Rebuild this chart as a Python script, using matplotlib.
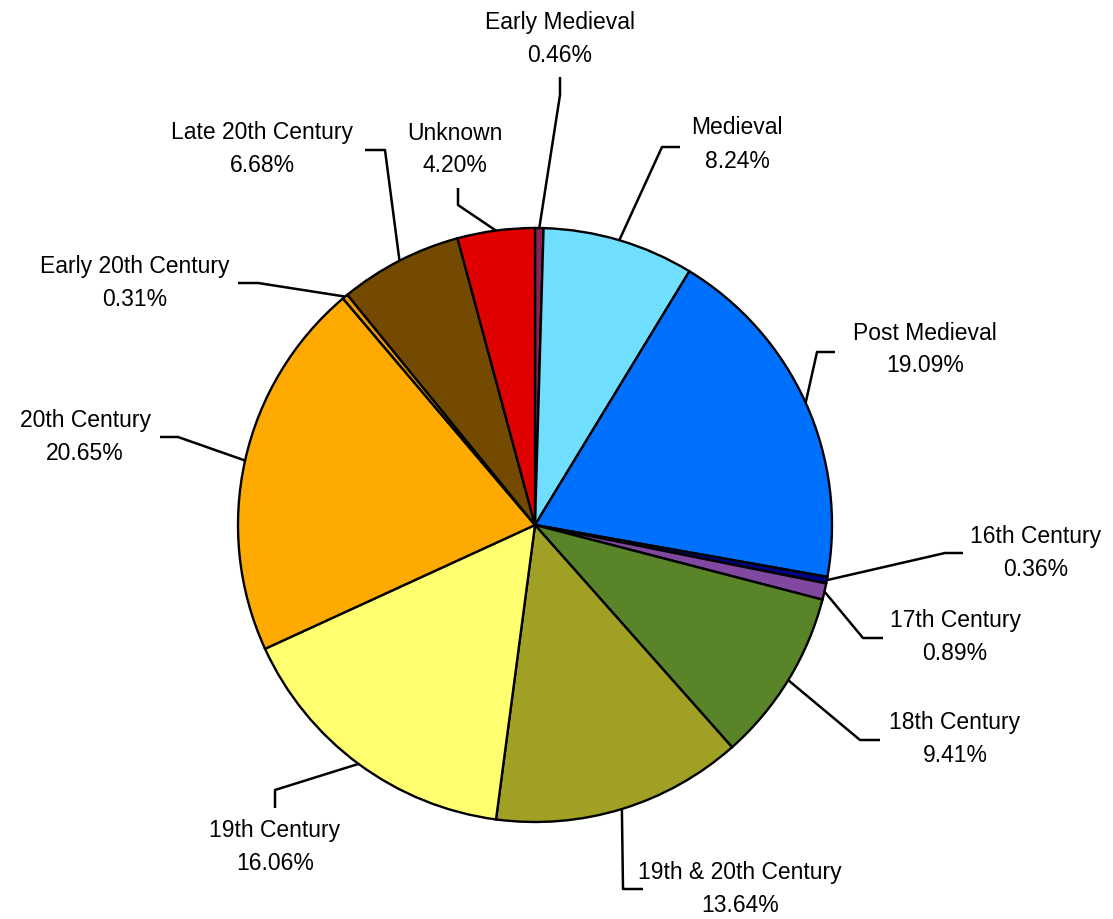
import numpy as np
import matplotlib
matplotlib.use("Agg")
import matplotlib.pyplot as plt

plt.rcParams['font.family'] = ['Liberation Sans', 'DejaVu Sans']

categories = ["Early Medieval", "Medieval", "Post Medieval", "16th Century",
              "17th Century", "18th Century", "19th & 20th Century",
              "19th Century", "20th Century", "Early 20th Century",
              "Late 20th Century", "Unknown"]
percentages = [0.46, 8.24, 19.09, 0.36, 0.89, 9.41, 13.64, 16.06, 20.65,
               0.31, 6.68, 4.20]
colors = ["#8B2252", "#70DFFF", "#0070FF", "#000080", "#8048A0", "#5A8428",
          "#A0A024", "#FFFF70", "#FFAA00", "#E89A00", "#744A00", "#E00000"]

W, H = 1113, 919
fig = plt.figure(figsize=(W / 100, H / 100), dpi=100)
ax = fig.add_axes([0, 0, 1, 1])

cx, cy, R = 535, H - 525, 297

ax.pie(percentages, colors=colors, startangle=90, counterclock=False,
       center=(cx, cy), radius=R, frame=True,
       wedgeprops=dict(edgecolor='black', linewidth=1.7))
ax.set_xlim(0, W)
ax.set_ylim(0, H)
ax.set_aspect('equal')
ax.axis('off')

# label text centre (pixel coords, y down) and leader elbow points
layout = {
    "Early Medieval": ((560, 22), [(560, 95), (560, 77)]),
    "Medieval": ((737, 128), [(662, 147), (680, 147)]),
    "Post Medieval": ((925, 333), [(817, 352), (835, 352)]),
    "16th Century": ((1036, 536), [(945, 553), (963, 553)]),
    "17th Century": ((955, 621), [(863, 638), (883, 638)]),
    "18th Century": ((955, 723), [(860, 740), (880, 740)]),
    "19th & 20th Century": ((740, 872), [(623, 889), (643, 889)]),
    "19th Century": ((275, 830), [(275, 790), (275, 808)]),
    "20th Century": ((85, 421), [(178, 437), (160, 437)]),
    "Early 20th Century": ((135, 267), [(258, 283), (238, 283)]),
    "Late 20th Century": ((262, 133), [(385, 150), (365, 150)]),
    "Unknown": ((455, 133), [(458, 205), (458, 188)]),
}

cum = np.cumsum([0] + percentages[:-1])
total = sum(percentages)
for name, start, pct in zip(categories, cum, percentages):
    mid = (start + pct / 2) / total * 360.0
    theta = np.deg2rad(90 - mid)
    ax_x = cx + R * np.cos(theta)
    ax_y = cy + R * np.sin(theta)
    (tx, ty), elbows = layout[name]
    xs = [ax_x] + [p[0] for p in elbows]
    ys = [ax_y] + [H - p[1] for p in elbows]
    ax.plot(xs, ys, color='black', linewidth=1.8, solid_capstyle='butt')
    ax.text(tx, H - ty, name, ha='center', va='center', fontsize=16.5)
    ax.text(tx, H - ty - 33, f"{pct:.2f}%", ha='center', va='center',
            fontsize=16.5)

fig.savefig("out.png", dpi=100)
